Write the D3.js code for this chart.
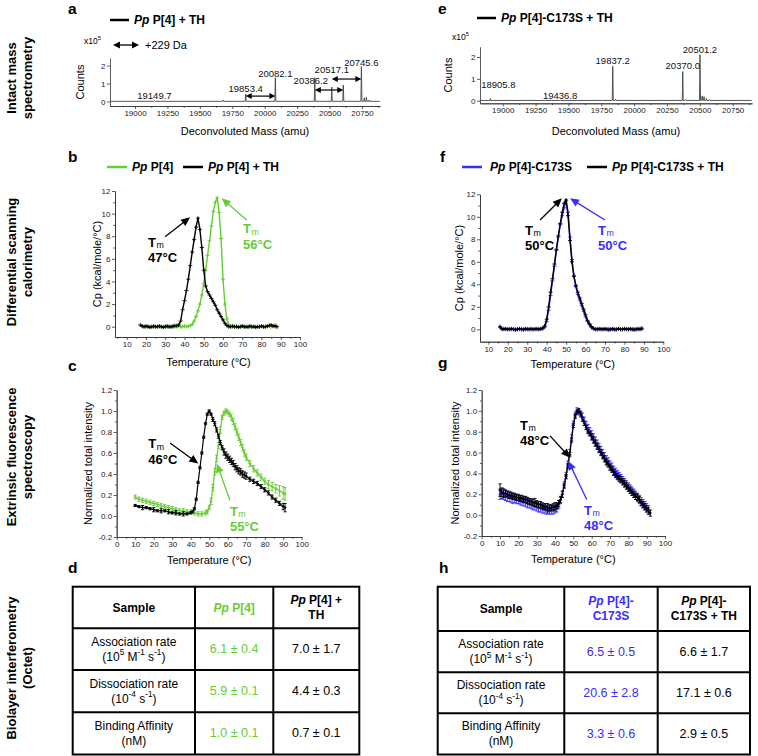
<!DOCTYPE html>
<html><head><meta charset="utf-8">
<script src="https://cdn.jsdelivr.net/npm/d3@7"></script>
<style>body{margin:0;background:#fff}svg{display:block}</style>
</head><body>
<script>
// ================= DATA =================
// Intact mass spectrometry (panels a, e)
const massTicks = [19000,19250,19500,19750,20000,20250,20500,20750];
const countTicks = [0,1,2];
const msA_mass   = [19149.7,19680,19853.4,20082.1,20386.2,20517.1,20606,20745.6,20768,20784,20805];
const msA_counts = [0.05,0.08,0.42,1.32,1.32,0.8,0.92,1.95,0.2,0.24,0.08];
const msA_labels = ["19149.7","19853.4","20082.1","20386.2","20517.1","20745.6"];
const msA_shiftPairs = [[19853.4,20082.1],[20386.2,20606],[20517.1,20745.6]];
const msE_mass   = [18905.8,19436.8,19760,19837.2,19858,20370.0,20392,20501.2,20518,20532,20550,20575];
const msE_counts = [0.1,0.03,0.04,1.57,0.07,1.33,0.05,2.1,0.22,0.18,0.1,0.05];
const msE_labels = ["18905.8","19436.8","19837.2","20370.0","20501.2"];

// DSC (panels b, f): Cp (kcal/mole/°C)
const dscTempB_black = d3.range(17, 89);
const dscB_black = [0.15,0.05,0.0,0.05,0.0,-0.05,0.0,0.05,0.0,0.0,0.05,0.0,-0.05,0.0,0.05,0.0,0.0,0.05,0.1,0.1,
  0.15,0.5,1.5,2.3,3.2,4.2,5.4,6.6,7.7,8.8,9.6,8.6,7.0,5.0,3.6,3.1,2.8,2.5,2.2,1.9,1.5,1.2,0.9,0.6,0.3,0.1,0.0,
  0.0,0.05,0.0,0.0,-0.05,0.0,0.05,0.0,0.0,0.0,0.05,0.0,0.0,-0.05,0.0,0.0,0.05,0.0,0.0,0.05,0.1,0.15,0.05,0.1,0.0];
const dscTempB_green = d3.range(18, 89);
const dscB_green = [0.05,0.0,0.0,0.05,0.0,0.0,-0.05,0.0,0.05,0.0,0.0,0.0,0.05,0.0,0.0,0.0,-0.05,0.0,0.0,0.05,0.0,0.0,0.05,0.0,0.05,
  0.1,0.2,0.5,0.9,1.4,2.0,2.8,3.8,5.0,6.3,7.6,8.9,10.2,11.0,11.4,10.1,7.8,4.2,2.0,0.7,0.2,0.05,
  0.0,0.0,0.05,0.0,0.0,0.05,0.0,0.0,-0.05,0.0,0.0,0.05,0.0,0.0,0.0,0.05,0.0,0.0,0.05,0.1,0.0,0.05,0.0,0.0];
const dscTempF = d3.range(16, 90);
const dscF_black = [0.2,0.05,0.0,0.05,0.0,0.0,0.05,0.0,-0.05,0.0,0.05,0.0,0.0,0.05,0.0,0.0,0.05,0.0,0.0,0.05,0.0,0.05,0.1,
  0.3,0.9,2.0,3.3,4.5,5.8,7.1,8.3,9.4,10.4,11.2,11.5,10.1,7.9,6.0,4.7,3.9,3.3,2.8,2.3,1.8,1.3,0.8,0.5,0.25,0.1,0.0,
  0.0,0.05,0.0,0.0,0.05,0.0,-0.05,0.0,0.05,0.0,0.0,0.05,0.0,0.0,0.05,0.0,0.0,0.05,0.0,-0.05,0.0,0.05,0.0,0.1];
const dscF_blue = [0.25,0.0,0.05,0.0,0.0,0.05,0.0,0.0,0.0,0.05,0.0,0.0,-0.05,0.0,0.05,0.0,0.0,0.0,0.05,0.0,0.0,0.05,0.05,
  0.2,0.7,1.7,3.0,4.3,5.6,7.0,8.2,9.3,10.1,10.8,11.4,10.4,8.2,6.2,4.8,3.8,3.1,2.6,2.1,1.6,1.1,0.7,0.4,0.15,0.05,0.0,
  0.0,0.0,0.05,0.0,0.0,0.0,0.05,0.0,0.0,-0.05,0.0,0.05,0.0,0.0,0.0,0.05,0.0,0.0,0.0,0.05,0.0,0.0,0.05,0.0];

// Extrinsic fluorescence (panels c, g): [temperature, normalized intensity, error]
const fluorC_black = [[10,0.10,0.01],[12,0.09,0.01],[14,0.08,0.02],[16,0.08,0.01],[18,0.07,0.01],[20,0.06,0.02],[22,0.05,0.01],[24,0.05,0.02],[26,0.05,0.01],[28,0.04,0.02],[30,0.03,0.01],[32,0.03,0.02],[34,0.02,0.01],[36,0.02,0.02],[38,0.02,0.01],[40,0.03,0.01],[41,0.04,0.01],[42,0.07,0.01],[43,0.16,0.01],[44,0.32,0.01],[45,0.46,0.01],[46,0.60,0.01],[47,0.75,0.01],[48,0.88,0.01],[49,0.97,0.01],[50,1.00,0.01],[51,0.97,0.01],[52,0.92,0.02],[53,0.88,0.02],[54,0.82,0.02],[55,0.76,0.02],[56,0.70,0.02],[57,0.65,0.02],[58,0.61,0.03],[59,0.58,0.03],[60,0.56,0.03],[61,0.54,0.03],[62,0.52,0.03],[63,0.50,0.03],[64,0.47,0.03],[65,0.45,0.03],[66,0.43,0.03],[67,0.42,0.03],[68,0.40,0.03],[69,0.39,0.03],[70,0.38,0.03],[72,0.35,0.02],[74,0.33,0.02],[76,0.31,0.02],[78,0.28,0.02],[80,0.25,0.02],[82,0.22,0.02],[84,0.18,0.02],[86,0.15,0.02],[88,0.12,0.02],[90,0.09,0.03],[91,0.08,0.04]];
const fluorC_green = [[10,0.18,0.02],[12,0.16,0.02],[14,0.15,0.02],[16,0.14,0.02],[18,0.13,0.02],[20,0.12,0.02],[22,0.11,0.02],[24,0.10,0.02],[26,0.09,0.02],[28,0.08,0.02],[30,0.07,0.02],[32,0.06,0.02],[34,0.05,0.02],[36,0.05,0.02],[38,0.04,0.02],[40,0.04,0.02],[42,0.03,0.02],[44,0.02,0.02],[46,0.02,0.02],[48,0.03,0.02],[49,0.04,0.02],[50,0.08,0.02],[51,0.14,0.03],[52,0.27,0.03],[53,0.42,0.03],[54,0.55,0.03],[55,0.67,0.03],[56,0.82,0.03],[57,0.94,0.02],[58,0.98,0.02],[59,1.0,0.02],[60,0.99,0.02],[61,0.97,0.02],[62,0.94,0.03],[63,0.90,0.03],[64,0.85,0.03],[65,0.80,0.03],[66,0.75,0.03],[67,0.70,0.03],[68,0.65,0.03],[69,0.60,0.03],[70,0.56,0.03],[72,0.50,0.03],[74,0.45,0.03],[76,0.41,0.03],[78,0.37,0.03],[80,0.33,0.03],[82,0.30,0.04],[84,0.28,0.04],[86,0.26,0.04],[88,0.24,0.05],[90,0.22,0.06],[91,0.21,0.06]];
const fluorG_black = [[10,0.24,0.06],[11,0.22,0.04],[12,0.21,0.04],[13,0.21,0.03],[14,0.20,0.03],[15,0.19,0.03],[16,0.19,0.03],[17,0.18,0.03],[18,0.18,0.03],[19,0.17,0.03],[20,0.17,0.03],[21,0.16,0.03],[22,0.16,0.03],[23,0.15,0.03],[24,0.15,0.03],[25,0.14,0.03],[26,0.13,0.03],[27,0.13,0.03],[28,0.12,0.03],[29,0.12,0.04],[30,0.11,0.03],[31,0.10,0.03],[32,0.10,0.03],[33,0.09,0.03],[34,0.08,0.03],[35,0.08,0.03],[36,0.07,0.04],[37,0.07,0.03],[38,0.07,0.03],[39,0.08,0.03],[40,0.08,0.04],[41,0.09,0.03],[42,0.11,0.03],[43,0.15,0.03],[44,0.2,0.03],[45,0.28,0.02],[46,0.37,0.02],[47,0.47,0.02],[48,0.58,0.02],[49,0.72,0.02],[50,0.86,0.02],[51,0.95,0.02],[52,0.99,0.02],[53,1.0,0.02],[54,0.97,0.02],[55,0.92,0.02],[56,0.88,0.02],[57,0.84,0.02],[58,0.80,0.02],[59,0.78,0.02],[60,0.75,0.03],[61,0.72,0.03],[62,0.69,0.03],[63,0.66,0.03],[64,0.63,0.03],[65,0.60,0.03],[66,0.57,0.03],[67,0.54,0.03],[68,0.51,0.03],[69,0.49,0.03],[70,0.46,0.03],[71,0.44,0.03],[72,0.41,0.03],[73,0.39,0.03],[74,0.37,0.03],[75,0.35,0.03],[76,0.34,0.03],[77,0.32,0.03],[78,0.30,0.03],[79,0.28,0.03],[80,0.26,0.03],[81,0.24,0.03],[82,0.22,0.03],[83,0.20,0.03],[84,0.18,0.03],[85,0.17,0.03],[86,0.15,0.03],[87,0.12,0.03],[88,0.10,0.03],[89,0.08,0.03],[90,0.06,0.03],[91,0.04,0.03],[92,0.02,0.03]];
const fluorG_blue = [[10,0.20,0.05],[11,0.21,0.05],[12,0.20,0.05],[13,0.19,0.05],[14,0.18,0.05],[15,0.18,0.05],[16,0.17,0.05],[17,0.16,0.05],[18,0.16,0.04],[19,0.15,0.04],[20,0.15,0.04],[21,0.14,0.04],[22,0.13,0.04],[23,0.13,0.04],[24,0.12,0.04],[25,0.11,0.04],[26,0.11,0.04],[27,0.10,0.04],[28,0.09,0.04],[29,0.09,0.04],[30,0.08,0.04],[31,0.07,0.04],[32,0.07,0.04],[33,0.06,0.04],[34,0.06,0.04],[35,0.05,0.04],[36,0.05,0.04],[37,0.05,0.04],[38,0.05,0.04],[39,0.05,0.04],[40,0.06,0.04],[41,0.07,0.04],[42,0.10,0.04],[43,0.14,0.03],[44,0.2,0.03],[45,0.29,0.03],[46,0.38,0.03],[47,0.49,0.03],[48,0.60,0.03],[49,0.74,0.03],[50,0.87,0.03],[51,0.96,0.03],[52,1.0,0.03],[53,0.99,0.03],[54,0.97,0.03],[55,0.94,0.04],[56,0.90,0.04],[57,0.86,0.04],[58,0.83,0.04],[59,0.80,0.04],[60,0.77,0.04],[61,0.74,0.04],[62,0.71,0.04],[63,0.68,0.04],[64,0.65,0.04],[65,0.62,0.04],[66,0.59,0.04],[67,0.56,0.04],[68,0.53,0.04],[69,0.51,0.04],[70,0.48,0.04],[71,0.46,0.04],[72,0.43,0.04],[73,0.41,0.04],[74,0.39,0.04],[75,0.37,0.04],[76,0.35,0.04],[77,0.33,0.04],[78,0.31,0.04],[79,0.29,0.04],[80,0.27,0.04],[81,0.25,0.04],[82,0.23,0.04],[83,0.21,0.04],[84,0.19,0.04],[85,0.17,0.04],[86,0.15,0.04],[87,0.13,0.04],[88,0.11,0.04],[89,0.09,0.04],[90,0.07,0.04],[91,0.05,0.04]];

const tempTicks = [10,20,30,40,50,60,70,80,90,100];
const tempTicksFull = [0,10,20,30,40,50,60,70,80,90,100];
const cpTicks = [0,2,4,6,8,10,12];
const intTicks = [-0.2,0,0.2,0.4,0.6,0.8,1.0,1.2];
const tmValues = {b:["47°C","56°C"], c:["46°C","55°C"], f:["50°C","50°C"], g:["48°C","48°C"]};

// Biolayer interferometry tables (panels d, h)
const bliParams = [["Association rate",[["(10"],["5",1],[" M"],["-1",1],[" s"],["-1",1],[")"]]],
                   ["Dissociation rate",[["(10"],["-4",1],[" s"],["-1",1],[")"]]],
                   ["Binding Affinity",[["(nM)"]]]];
const bliD_pp  = ["6.1 ± 0.4","5.9 ± 0.1","1.0 ± 0.1"];
const bliD_th  = ["7.0 ± 1.7","4.4 ± 0.3","0.7 ± 0.1"];
const bliH_mut = ["6.5 ± 0.5","20.6 ± 2.8","3.3 ± 0.6"];
const bliH_th  = ["6.6 ± 1.7","17.1 ± 0.6","2.9 ± 0.5"];

// ================= DRAWING =================
const FONT = '"Liberation Sans", Arial, Helvetica, sans-serif';
const GREEN = "#66cc33", BLUE = "#3a2dff", BLACK = "#000";
const svg = d3.select("body").append("svg").attr("width",758).attr("height",756)
  .attr("font-family", FONT);

function addText(g, x, y, segs, o={}) {
  const size = o.size || 11;
  const t = g.append("text").attr("x",x).attr("y",y).attr("font-size",size)
    .attr("fill", o.color || "#000").attr("text-anchor", o.anchor || "start")
    .attr("dominant-baseline", o.baseline || "central");
  if (o.bold) t.attr("font-weight","bold");
  if (o.italic) t.attr("font-style","italic");
  if (o.rotate) t.attr("transform", `rotate(${o.rotate},${x},${y})`);
  if (typeof segs === "string") segs = [{t:segs}];
  let shift = 0;
  segs.forEach(s => {
    const ts = t.append("tspan").text(s.t);
    const target = s.sup ? -size*0.38 : s.sub ? size*0.32 : 0;
    if (target !== shift) { ts.attr("dy", target - shift); shift = target; }
    if (s.sup || s.sub) ts.attr("font-size", size*0.68);
    if (s.i) ts.attr("font-style","italic");
    if (s.b) ts.attr("font-weight","bold");
    if (s.n) ts.attr("font-weight","normal");
    if (s.c) ts.attr("fill", s.c);
  });
  return t;
}

function arrow(g, x1, y1, x2, y2, color, o={}) {
  const head = o.head || 7, hw = o.hw || 6, both = o.both || false;
  const a = Math.atan2(y2-y1, x2-x1), c = Math.cos(a), s = Math.sin(a);
  g.append("line")
    .attr("x1", both ? x1 + head*c*0.8 : x1).attr("y1", both ? y1 + head*s*0.8 : y1)
    .attr("x2", x2 - head*c*0.8).attr("y2", y2 - head*s*0.8)
    .attr("stroke", color).attr("stroke-width", o.w || 1.2);
  const tri = (x, y, cc, ss) => {
    const bx = x - head*cc, by = y - head*ss;
    g.append("polygon").attr("fill", color).attr("points",
      [[x,y],[bx + hw/2*ss, by - hw/2*cc],[bx - hw/2*ss, by + hw/2*cc]].map(p=>p.join(",")).join(" "));
  };
  tri(x2, y2, c, s);
  if (both) tri(x1, y1, -c, -s);
}

function styleAxis(sel, fs) {
  sel.attr("font-family", FONT).attr("font-size", fs);
  sel.selectAll("path,line").attr("stroke", "#333").attr("stroke-width", 0.8);
  sel.selectAll("text").attr("fill", "#222");
}

function drawAxes(g, x, y, o) {
  const y0 = y.range()[0], x0 = x.range()[0];
  if (o.xm) styleAxis(g.append("g").attr("transform",`translate(0,${y0})`)
      .call(d3.axisBottom(x).tickValues(o.xm).tickSize(1.8).tickSizeOuter(0).tickFormat("")), 8);
  if (o.ym) styleAxis(g.append("g").attr("transform",`translate(${x0},0)`)
      .call(d3.axisLeft(y).tickValues(o.ym).tickSize(1.8).tickSizeOuter(0).tickFormat("")), 8);
  styleAxis(g.append("g").attr("transform",`translate(0,${y0})`)
    .call(d3.axisBottom(x).tickValues(o.xt).tickSize(3).tickPadding(1.5).tickSizeOuter(0)
      .tickFormat(o.xf || (d=>d))), o.fs || 8);
  styleAxis(g.append("g").attr("transform",`translate(${x0},0)`)
    .call(d3.axisLeft(y).tickValues(o.yt).tickSize(3).tickPadding(1.5).tickSizeOuter(0)
      .tickFormat(o.yf || (d=>d))), o.fs || 8);
}

function legendLine(g, x1, x2, y, color) {
  g.append("line").attr("x1",x1).attr("x2",x2).attr("y1",y).attr("y2",y)
    .attr("stroke",color).attr("stroke-width",2.5);
}
const ppSegs = (rest) => [{t:"Pp", i:true}, {t:rest}];

// ---------- Row labels ----------
[["Intact mass","spectrometry",78],["Differential scanning","calorimetry",262],
 ["Extrinsic fluorescence","spectroscopy",457],["Biolayer interferometry","(Octet)",668]]
 .forEach(([l1,l2,cy]) => {
   addText(svg, 11, cy, l1, {size:13, bold:true, anchor:"middle", rotate:-90});
   addText(svg, 27, cy, l2, {size:13, bold:true, anchor:"middle", rotate:-90});
 });

// ---------- Panel letters ----------
[["a",68,13.5],["e",438,13.5],["b",68,162],["f",440,162],["c",68,371],["g",438,368],["d",68,573],["h",439,573]]
 .forEach(([l,x,y]) => addText(svg, x, y, l, {size:15.5, bold:true, baseline:"alphabetic"}));

// ---------- Mass spectrometry panels ----------
function massPanel(cfg) {
  const g = svg.append("g");
  const x = d3.scaleLinear().domain(cfg.xd).range(cfg.xr);
  const y = d3.scaleLinear().domain(cfg.yd).range(cfg.yr);
  drawAxes(g, x, y, {xt: massTicks, yt: countTicks, xm: massTicks.map(d=>d+125).filter(d=>d<cfg.xd[1]), fs: 8});
  const pts = [[cfg.xd[0]+4, 0.01]];
  cfg.mass.forEach((m,i) => { pts.push([m-4, 0.01],[m, cfg.counts[i]],[m+4, 0.01]); });
  pts.push([cfg.xd[1]-2, 0.01]);
  pts.sort((a,b)=>a[0]-b[0]);
  g.append("path").attr("d", d3.line().x(d=>x(d[0])).y(d=>y(d[1]))(pts))
    .attr("fill","none").attr("stroke","#444").attr("stroke-width",0.9);
  cfg.labels.forEach((lab,i) => {
    addText(g, x(+lab) + (cfg.labelDx[i]||0), y(cfg.labelLevel[i]), lab, {size:9.5, anchor:"middle", color:"#111"});
  });
  (cfg.pairs||[]).forEach((p,i) => {
    arrow(g, x(p[0]), y(cfg.pairLevel[i]), x(p[1]), y(cfg.pairLevel[i]), "#000", {both:true, head:6, hw:6, w:1.2});
  });
  addText(g, cfg.countsX, (cfg.yr[0]+cfg.yr[1])/2, "Counts", {size:11, anchor:"middle", rotate:-90});
  addText(g, cfg.x10[0], cfg.x10[1], [{t:"x10"},{t:"5",sup:true}], {size:8.5});
  addText(g, (cfg.xr[0]+cfg.xr[1])/2, 131, "Deconvoluted Mass (amu)", {size:11, anchor:"middle"});
  legendLine(g, cfg.leg[0], cfg.leg[0]+19, cfg.leg[1], "#000");
  addText(g, cfg.leg[0]+24, cfg.leg[1], ppSegs(cfg.legText), {size:12, bold:true});
  return {g, x, y};
}
const pa = massPanel({xd:[18807,20889], xr:[110,380], yd:[-0.25,2.42], yr:[106,58],
  mass: msA_mass, counts: msA_counts, labels: msA_labels,
  labelLevel: [0.36,0.75,1.58,1.19,1.8,2.19], labelDx:[0,0,0,-4,0,0],
  pairs: msA_shiftPairs, pairLevel:[0.3,0.64,1.25],
  countsX: 80, x10:[84,41], leg:[110,20], legText:" P[4] + TH"});
arrow(pa.g, 113, 45, 139, 45, "#000", {both:true, head:7, hw:7, w:1.3});
addText(pa.g, 145, 45, "+229 Da", {size:11});
massPanel({xd:[18827,20897], xr:[480,752], yd:[-0.12,2.47], yr:[103.3,46.7],
  mass: msE_mass, counts: msE_counts, labels: msE_labels,
  labelLevel: [0.77,0.26,1.84,1.65,2.37], labelDx:[8,0,0,0,0],
  countsX: 448, x10:[452,37], leg:[477,18], legText:" P[4]-C173S + TH"});

// ---------- DSC panels ----------
function plusMarks(g, pts, x, y, color, sz) {
  g.append("path").attr("d", pts.map(d => {
      const px = x(d[0]), py = y(d[1]);
      return `M${px-sz},${py}H${px+sz}M${px},${py-sz}V${py+sz}`; }).join(""))
    .attr("stroke", color).attr("stroke-width", 0.9).attr("fill","none");
}
function seriesLine(g, pts, x, y, color, w) {
  g.append("path").attr("d", d3.line().x(d=>x(d[0])).y(d=>y(d[1]))(pts))
    .attr("fill","none").attr("stroke",color).attr("stroke-width",w).attr("stroke-linejoin","round");
}
function tmLabel(g, x, y, val, color, size=13) {
  const t = addText(g, x, y, "T", {size, bold:true, color});
  const w = t.node().getComputedTextLength();
  addText(g, x + w + 0.5, y + 3.5, "m", {size: size*0.68, color});
  addText(g, x, y + 15.5, val, {size, bold:true, color});
}

function dscPanel(cfg) {
  const g = svg.append("g");
  const x = d3.scaleLinear().domain(cfg.xd).range(cfg.xr);
  const y = d3.scaleLinear().domain(cfg.yd).range(cfg.yr);
  drawAxes(g, x, y, {xt: tempTicks, yt: cpTicks, xm: tempTicks.map(d=>d-5).filter(d=>d>cfg.xd[0]),
    ym: [1,3,5,7,9,11], fs: 8});
  cfg.series.forEach(s => {
    const pts = s.t.map((t,i)=>[t, s.v[i]]);
    seriesLine(g, pts, x, y, s.c, 1.4);
    plusMarks(g, pts, x, y, s.c, 2);
  });
  addText(g, cfg.ylx, (cfg.yr[0]+cfg.yr[1])/2, "Cp (kcal/mole/°C)", {size:11, anchor:"middle", rotate:-90});
  addText(g, (cfg.xr[0]+cfg.xr[1])/2+1, cfg.xly, "Temperature (°C)", {size:11, anchor:"middle"});
  return {g,x,y};
}
const pb = dscPanel({xd:[3.9,100], xr:[115,300], yd:[-0.91,12], yr:[337,191], ylx:97, xly:362,
  series:[{t:dscTempB_green, v:dscB_green, c:GREEN},{t:dscTempB_black, v:dscB_black, c:BLACK}]});
arrow(pb.g, pb.x(29.9), pb.y(7.96), pb.x(42.9), pb.y(9.67), BLACK, {head:9, hw:8, w:1.3});
tmLabel(pb.g, pb.x(21.1), pb.y(7.5), tmValues.b[0], BLACK);
arrow(pb.g, pb.x(72.3), pb.y(9.43), pb.x(59.3), pb.y(11.35), GREEN, {head:9, hw:8, w:1.3});
tmLabel(pb.g, pb.x(70.4), pb.y(8.7), tmValues.b[1], GREEN);
legendLine(pb.g, 107, 127, 167, GREEN);
addText(pb.g, 132, 167, ppSegs(" P[4]"), {size:12, bold:true});
legendLine(pb.g, 183, 203, 167, BLACK);
addText(pb.g, 208, 167, ppSegs(" P[4] + TH"), {size:12, bold:true});

const pf = dscPanel({xd:[5.7,100], xr:[480,663.3], yd:[-1.1,12], yr:[341.7,194.3], ylx:459, xly:364,
  series:[{t:dscTempF, v:dscF_blue, c:BLUE},{t:dscTempF, v:dscF_black, c:BLACK}]});
arrow(pf.g, pf.x(36.6), pf.y(9.72), pf.x(47.8), pf.y(11.64), BLACK, {head:9, hw:8, w:1.3});
tmLabel(pf.g, pf.x(28.9), pf.y(8.83), tmValues.f[0], BLACK);
arrow(pf.g, pf.x(70), pf.y(9.72), pf.x(52), pf.y(11.64), BLUE, {head:9, hw:8, w:1.3});
tmLabel(pf.g, pf.x(66.4), pf.y(8.83), tmValues.f[1], BLUE);
legendLine(pf.g, 462, 482, 167, BLUE);
addText(pf.g, 490, 167, ppSegs(" P[4]-C173S"), {size:12, bold:true});
legendLine(pf.g, 587, 607, 167, BLACK);
addText(pf.g, 612, 167, ppSegs(" P[4]-C173S + TH"), {size:12, bold:true});

// ---------- Fluorescence panels ----------
function fluorPanel(cfg) {
  const g = svg.append("g");
  const x = d3.scaleLinear().domain([0,100]).range(cfg.xr);
  const y = d3.scaleLinear().domain([-0.2,1.2]).range(cfg.yr);
  drawAxes(g, x, y, {xt: tempTicksFull, yt: intTicks, xm: tempTicks.map(d=>d-5),
    ym: [-0.1,0.1,0.3,0.5,0.7,0.9,1.1], yf: d=>d.toFixed(1), fs: 8});
  cfg.series.forEach(s => {
    const eb = s.d.map(d => {
      const px = x(d[0]), lo = y(d[1]-d[2]), hi = y(d[1]+d[2]);
      return `M${px},${lo}V${hi}M${px-1.6},${lo}H${px+1.6}M${px-1.6},${hi}H${px+1.6}`; }).join("");
    g.append("path").attr("d", eb).attr("stroke", s.c).attr("stroke-width", 0.9).attr("fill","none");
    seriesLine(g, s.d, x, y, s.c, 1.2);
    plusMarks(g, s.d, x, y, s.c, 1.6);
  });
  addText(g, cfg.ylx, (cfg.yr[0]+cfg.yr[1])/2, "Normalized total intensity", {size:11, anchor:"middle", rotate:-90});
  addText(g, (cfg.xr[0]+cfg.xr[1])/2, cfg.xly, "Temperature (°C)", {size:11, anchor:"middle"});
  return {g,x,y};
}
const pc = fluorPanel({xr:[116.7,301.7], yr:[537,390], ylx:88, xly:560,
  series:[{d:fluorC_green, c:GREEN},{d:fluorC_black, c:BLACK}]});
arrow(pc.g, pc.x(28.8), pc.y(0.695), pc.x(44.1), pc.y(0.50), BLACK, {head:9, hw:8, w:1.3});
tmLabel(pc.g, pc.x(17.1), pc.y(0.695), tmValues.c[0], BLACK);
arrow(pc.g, pc.x(61.2), pc.y(0.15), pc.x(54.1), pc.y(0.50), GREEN, {head:9, hw:8, w:1.3});
tmLabel(pc.g, pc.x(61.2), pc.y(0.05), tmValues.c[1], GREEN);

const pg = fluorPanel({xr:[481.7,665], yr:[536,390], ylx:455, xly:559,
  series:[{d:fluorG_blue, c:BLUE},{d:fluorG_black, c:BLACK}]});
arrow(pg.g, pg.x(37.3), pg.y(0.76), pg.x(48.2), pg.y(0.55), BLACK, {head:9, hw:8, w:1.3});
tmLabel(pg.g, pg.x(20.9), pg.y(0.865), tmValues.g[0], BLACK);
arrow(pg.g, pg.x(57.3), pg.y(0.15), pg.x(47.2), pg.y(0.52), BLUE, {head:9, hw:8, w:1.3});
tmLabel(pg.g, pg.x(55.8), pg.y(0.05), tmValues.g[1], BLUE);

// ---------- Tables ----------
function bliTable(xs, ys, head2, head3, col2, col3, col2Color) {
  const g = svg.append("g");
  g.append("rect").attr("x",xs[0]).attr("y",ys[0]).attr("width",xs[3]-xs[0]).attr("height",ys[4]-ys[0])
    .attr("fill","none").attr("stroke","#000").attr("stroke-width",2);
  [xs[1],xs[2]].forEach(xx => g.append("line").attr("x1",xx).attr("x2",xx).attr("y1",ys[0]).attr("y2",ys[4])
    .attr("stroke","#000").attr("stroke-width",2));
  [ys[1],ys[2],ys[3]].forEach(yy => g.append("line").attr("x1",xs[0]).attr("x2",xs[3]).attr("y1",yy).attr("y2",yy)
    .attr("stroke","#000").attr("stroke-width",2));
  const cx = i => (xs[i]+xs[i+1])/2, cy = r => (ys[r]+ys[r+1])/2;
  const multi = (col, row, lines, o) => {
    const n = lines.length;
    lines.forEach((segs, k) => addText(g, cx(col), cy(row) + (k - (n-1)/2)*15, segs, Object.assign({anchor:"middle"}, o)));
  };
  multi(0, 0, [[{t:"Sample"}]], {size:12, bold:true});
  multi(1, 0, head2, {size:12, bold:true, color:col2Color});
  multi(2, 0, head3, {size:12, bold:true});
  bliParams.forEach((p, r) => {
    multi(0, r+1, [[{t:p[0]}], p[1].map(s => ({t:s[0], sup:!!s[1]}))], {size:12});
    multi(1, r+1, [[{t:col2[r]}]], {size:12.5, color:col2Color});
    multi(2, r+1, [[{t:col3[r]}]], {size:12.5});
  });
}
bliTable([72.7,195,273.3,359.3],[586.7,628.3,670,712.3,754.5],
  [ppSegs(" P[4]")], [ppSegs(" P[4] +"), [{t:"TH"}]], bliD_pp, bliD_th, GREEN);
bliTable([437.7,564.3,657.7,750],[586.7,631,672.3,713.3,754.5],
  [ppSegs(" P[4]-"), [{t:"C173S"}]], [ppSegs(" P[4]-"), [{t:"C173S + TH"}]], bliH_mut, bliH_th, BLUE);
</script>
</body></html>
